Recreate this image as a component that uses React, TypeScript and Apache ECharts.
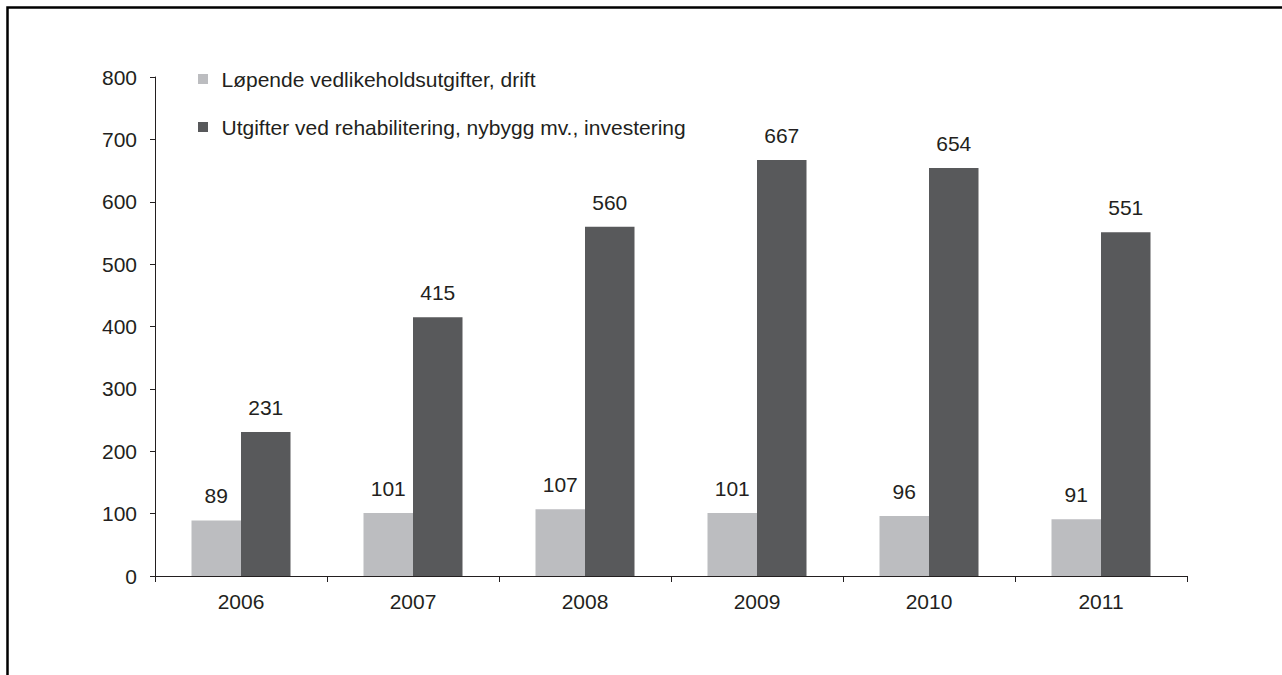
import React, { useEffect, useRef } from "react";
import * as echarts from "echarts";

const categories = ["2006", "2007", "2008", "2009", "2010", "2011"];
const driftValues = [89, 101, 107, 101, 96, 91];
const investValues = [231, 415, 560, 667, 654, 551];
const seriesNames = [
  "Løpende vedlikeholdsutgifter, drift",
  "Utgifter ved rehabilitering, nybygg mv., investering",
];
const yTicks = { min: 0, max: 800, interval: 100 };

export default function App() {
  const ref = useRef<HTMLDivElement>(null);
  useEffect(() => {
    if (!ref.current) return;
    const chart = echarts.init(ref.current, null, { renderer: "svg" });
    const font = "Liberation Sans, Arial, sans-serif";
    const ink = "#231f20";
    const fs = 21;
    chart.setOption({
      animation: false,
      backgroundColor: "#ffffff",
      textStyle: { fontFamily: font, color: ink },
      graphic: [
        {
          type: "polyline",
          shape: { points: [[7.5, 680], [7.5, 7.5], [1290, 7.5]] },
          style: { stroke: "#000", lineWidth: 2.5, fill: "none" },
          silent: true,
        },
      ],
      legend: {
        orient: "vertical",
        left: 193,
        top: 62,
        itemWidth: 10,
        itemHeight: 10,
        itemGap: 24,
        icon: "rect",
        textStyle: { fontFamily: font, fontSize: fs, color: ink, lineHeight: 24, padding: [0, 0, 0, 8.5] },
        data: seriesNames,
      },
      grid: { left: 155, right: 95, top: 77, bottom: 99, containLabel: false },
      xAxis: {
        type: "category",
        data: categories,
        axisLine: { lineStyle: { color: ink, width: 1 } },
        axisTick: { show: true, length: 6, lineStyle: { color: ink } },
        axisLabel: { fontFamily: font, fontSize: fs, color: ink, margin: 15 },
      },
      yAxis: {
        type: "value",
        min: yTicks.min,
        max: yTicks.max,
        interval: yTicks.interval,
        splitLine: { show: false },
        axisLine: { show: true, lineStyle: { color: ink, width: 1 } },
        axisTick: { show: true, length: 5, lineStyle: { color: ink } },
        axisLabel: { fontFamily: font, fontSize: fs, color: ink, margin: 18 },
      },
      series: [
        {
          name: seriesNames[0],
          type: "bar",
          data: driftValues,
          barWidth: 49.5,
          barGap: "0%",
          itemStyle: { color: "#bcbdc0" },
          label: { show: true, position: "top", distance: 14, fontFamily: font, fontSize: fs, color: ink },
        },
        {
          name: seriesNames[1],
          type: "bar",
          data: investValues,
          barWidth: 49.5,
          barGap: "0%",
          itemStyle: { color: "#58595b" },
          label: { show: true, position: "top", distance: 14, fontFamily: font, fontSize: fs, color: ink },
        },
      ],
    });
    return () => chart.dispose();
  }, []);
  return (
    <div
      ref={ref}
      style={{ position: "fixed", left: 0, top: 0, width: 1282, height: 675, background: "#fff" }}
    />
  );
}
